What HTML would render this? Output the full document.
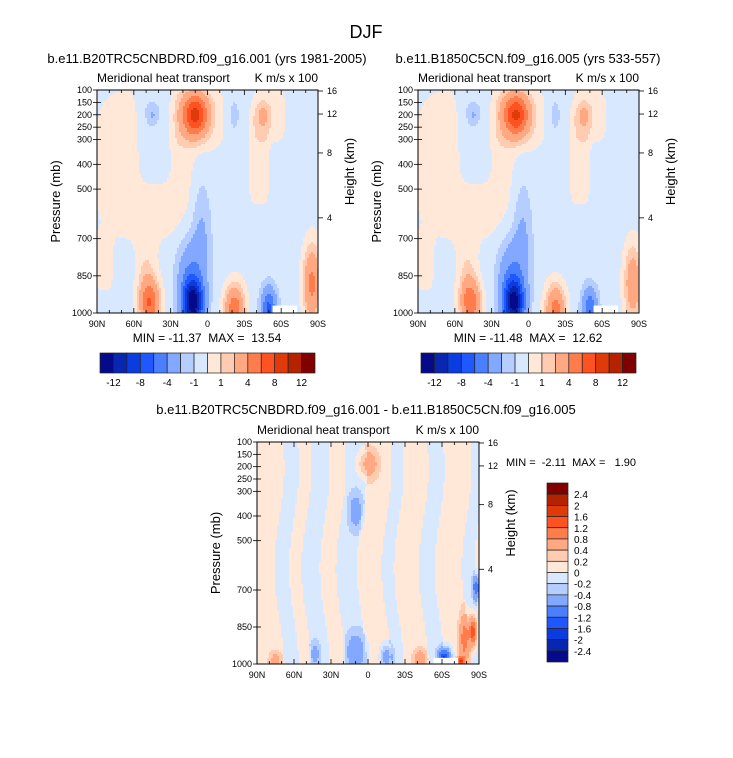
<!DOCTYPE html>
<html><head><meta charset="utf-8"><style>
html,body{margin:0;padding:0;background:#fff;}
svg{display:block;font-family:"Liberation Sans",Arial,sans-serif;}
svg text{white-space:pre;}
</style></head><body>
<svg id="fig" width="733" height="758" viewBox="0 0 733 758">
<text x="366" y="38" font-size="18" text-anchor="middle">DJF</text>
</svg>
<script>
// ---- data ----
const xTickLabels = ["90N","60N","30N","0","30S","60S","90S"];
const xTickLats = [90,60,30,0,-30,-60,-90];
const pTicks = [100,150,200,250,300,400,500,700,850,1000];
const heightTicks = ["16","12","8","4"];
const heightTickP = [104,197,354,616];
const levelsAbs = [-12,-10,-8,-6,-4,-2,-1,0,1,2,4,6,8,10,12];
const levelsAbsLabels = ["-12","-8","-4","-1","1","4","8","12"];
const levelsDiff = [-2.4,-2,-1.6,-1.2,-0.8,-0.4,-0.2,0,0.2,0.4,0.8,1.2,1.6,2,2.4];
const levelsDiffLabels = ["2.4","2","1.6","1.2","0.8","0.4","0.2","0","-0.2","-0.4","-0.8","-1.2","-1.6","-2","-2.4"];
const colors = ['#050a8a','#0826b0','#0a3ce0','#1f58ff','#4a80ff','#82a8ff','#b6ceff','#d8e8ff','#ffe8d8','#ffccb2','#ffa882','#ff7c4c','#ff5222','#e03a0a','#b42200','#800000'];
// blobs: [lat, pressure, sigmaLat, sigmaP, amplitude, power]  (power 4 = flat rectangular plateau)
const blobs1 = [
 [48,400,47,330,1,4],[43,260,15,240,-1,4],[8,210,22,130,1,4],[84,800,7,120,1,4],
 [-50,200,14,120,1,4],[-42,380,9,200,1,4],
 [10,200,10,80,8,2],[45,200,5,40,-1.5,2],[-22,200,3,50,-1.5,2],[-45,200,6,50,1.6,2],
 [12,960,8,90,-12,2],[5,700,8,250,-2,2],[15,850,10,150,-3,2],
 [47,960,8,90,6,2],[50,850,8,150,1.5,2],[-22,990,8,100,6,2],[-50,980,6,80,-6,2],[-85,880,7,150,5,2]
];
const blobs2 = [
 [48,400,47,330,1,4],[43,260,15,240,-1,4],[8,210,22,130,1,4],[84,800,7,120,1,4],
 [-50,200,14,120,1,4],[-42,380,9,200,1,4],
 [10,200,10,80,7.5,2],[45,200,5,40,-1.5,2],[-22,200,3,50,-1.5,2],[-45,200,6,50,1.6,2],
 [12,960,8,90,-11.5,2],[5,700,8,250,-2,2],[15,850,10,150,-3,2],
 [47,960,8,90,5.5,2],[50,850,8,150,1.5,2],[-22,990,8,100,5.5,2],[-50,980,6,80,-5,2],[-85,880,7,150,4,2]
];
const bandEdges3 = [90,72,60,50,35,22,5,-15,-25,-45,-58,-80,-90];
const bandVals3 = [0.1,-0.1,0.1,-0.1,0.1,-0.1,0.1,-0.1,0.1,-0.1,0.1,-0.1];
const blobs3 = [
 [0,190,8,60,0.6,2],[10,380,6,80,-0.5,2],[10,950,8,80,-0.6,2],[-15,970,5,50,-0.7,2],
 [-42,980,5,40,0.6,2],[-62,975,5,40,-1.6,2],[-78,900,4,100,0.9,2],[-85,870,3,60,1.5,2],
 [-88,690,3,50,-1.2,2],[43,960,4,50,-0.5,2],[-75,990,3,20,1.4,2],[75,990,5,40,0.5,2]
];
// missing-data patches [latFrom, latTo, pFrom, pTo]
const missing12 = [[-53,-73,970,1000]];
const missing3 = [[-53,-73,975,1000]];

const NS = "http://www.w3.org/2000/svg";
const svg = document.getElementById('fig');
function el(tag, attrs, parent, txt){
  const e = document.createElementNS(NS, tag);
  for (const k in attrs) e.setAttribute(k, attrs[k]);
  if (txt !== undefined) e.textContent = txt;
  (parent || svg).appendChild(e);
  return e;
}
function fieldVal(lat, p, blobs, base){
  let v = base;
  for (const b of blobs){
    const dx = (lat-b[0])/b[2], dy = (p-b[1])/b[3];
    let r;
    if (b[5]===4) r = dx*dx*dx*dx + dy*dy*dy*dy;
    else r = dx*dx+dy*dy;
    v += b[4]*Math.exp(-r);
  }
  return v;
}
function bandBase(lat, p){
  const l = lat + Math.sin(p/130)*4;
  for (let i=0;i<bandVals3.length;i++){ if (l<=bandEdges3[i] && l>=bandEdges3[i+1]) return bandVals3[i]; }
  return 0.1;
}
function colorIdx(v, levels){
  let i=0; while(i<levels.length && v>=levels[i]) i++; return i;
}
function panel(opt){
  const {x0,y0,w,h,blobs,levels,bandMode,missing,name} = opt;
  const g = el('g', {}, svg);
  
  
  const xS = lat => x0 + (90-lat)/180*w;
  const yS = p => y0 + (p-100)/900*h;
  const cell = 2;
  const field = el('g', {'shape-rendering':'crispEdges'}, g);
  
  
  for (let yy=0; yy<h; yy+=cell){
    const p = 100 + (yy+cell/2)/h*900;
    let runStart = 0, runC = -1;
    for (let xx=0; ; xx+=cell){
      const end = xx>=w;
      let c = -1;
      if (!end){
        const lat = 90 - (xx+cell/2)/w*180;
        const base = bandMode ? bandBase(lat, p) : -0.5;
        c = colorIdx(fieldVal(lat,p,blobs,base), levels);
      }
      if (c!==runC){
        if (runC>=0){
          const r = el('rect', {x:x0+runStart, y:y0+yy, width:Math.min(xx,w)-runStart, height:Math.min(cell,h-yy), fill:colors[runC]}, field);
          
          
        }
        runStart = xx; runC = c;
      }
      if (end) break;
    }
  }
  for (const m of missing){
    const r = el('rect', {x:xS(m[0]), y:yS(m[2]), width:xS(m[1])-xS(m[0]), height:yS(m[3])-yS(m[2]), fill:'#fff'}, g);
    
    
  }
  const frame = el('rect', {x:x0, y:y0, width:w, height:h, fill:'none', stroke:'#000', 'stroke-width':1}, g);
  
  
  for (let lat=90; lat>=-90; lat-=10){
    const major = lat%30===0;
    const len = major?5:3;
    el('line', {x1:xS(lat), x2:xS(lat), y1:y0+h, y2:y0+h-len, stroke:'#000','stroke-width':0.8}, g);
    el('line', {x1:xS(lat), x2:xS(lat), y1:y0, y2:y0+len, stroke:'#000','stroke-width':0.8}, g);
  }
  xTickLabels.forEach((t,i)=>{
    const tx = el('text', {x:xS(xTickLats[i]), y:y0+h+14, 'font-size':9, 'text-anchor':'middle'}, g, t);
    
    
  });
  pTicks.forEach(p=>{
    el('line', {x1:x0-4, x2:x0+4, y1:yS(p), y2:yS(p), stroke:'#000','stroke-width':0.8}, g);
    const tx = el('text', {x:x0-5, y:yS(p)+3, 'font-size':9, 'text-anchor':'end'}, g, String(p));
    
    
  });
  heightTicks.forEach((t,i)=>{
    const y = yS(heightTickP[i]);
    el('line', {x1:x0+w, x2:x0+w+5, y1:y, y2:y, stroke:'#000','stroke-width':0.8}, g);
    const tx = el('text', {x:x0+w+9, y:y+3, 'font-size':9}, g, t);
    
    
  });
  let t = el('text', {x:x0, y:y0-8, 'font-size':12}, g, 'Meridional heat transport');
  
  
  t = el('text', {x:x0+w, y:y0-8, 'font-size':12, 'text-anchor':'end'}, g, 'K m/s x 100');
  
  
  t = el('text', {x:0, y:0, 'font-size':13, 'text-anchor':'middle', transform:`translate(${x0-37},${y0+h/2}) rotate(-90)`}, g, 'Pressure (mb)');
  
  
  t = el('text', {x:0, y:0, 'font-size':13, 'text-anchor':'middle', transform:`translate(${x0+w+36},${y0+h/2-30}) rotate(-90)`}, g, 'Height (km)');
  
  
}
function hColorbar(x0,y0,w,h,name){
  const g = el('g', {}, svg);
  
  
  const bw = w/colors.length;
  colors.forEach((c,i)=>{
    const r = el('rect', {x:x0+i*bw, y:y0, width:bw, height:h, fill:c, stroke:'#222','stroke-width':0.7}, g);
    
    
  });
  levelsAbsLabels.forEach((l,i)=>{
    const t = el('text', {x:x0+(1+2*i)*bw, y:y0+h+13, 'font-size':10, 'text-anchor':'middle'}, g, l);
    
    
  });
}
function vColorbar(x0,y0,w,h,name){
  const g = el('g', {}, svg);
  
  
  const bh = h/colors.length;
  colors.slice().reverse().forEach((c,i)=>{
    const r = el('rect', {x:x0, y:y0+i*bh, width:w, height:bh, fill:c, stroke:'#222','stroke-width':0.7}, g);
    
    
  });
  levelsDiffLabels.forEach((l,i)=>{
    const t = el('text', {x:x0+w+6, y:y0+(i+1)*bh+4, 'font-size':10}, g, l);
    
    
  });
}
function txt(x,y,s,size,anchor,name){
  const t = el('text', {x:x, y:y, 'font-size':size, 'text-anchor':anchor}, svg, s);
  
  
}
panel({x0:97,y0:90,w:221,h:223,blobs:blobs1,levels:levelsAbs,bandMode:false,missing:missing12,name:'panel-20thc'});
panel({x0:418,y0:90,w:221,h:223,blobs:blobs2,levels:levelsAbs,bandMode:false,missing:missing12,name:'panel-1850'});
panel({x0:257,y0:442,w:222,h:222,blobs:blobs3,levels:levelsDiff,bandMode:true,missing:missing3,name:'panel-difference'});
hColorbar(100,353,215,20,'colorbar-20thc');
hColorbar(421,353,215,20,'colorbar-1850');
vColorbar(547,483,21,179,'colorbar-difference');
txt(207,63,'b.e11.B20TRC5CNBDRD.f09_g16.001 (yrs 1981-2005)',13,'middle','subtitle-20thc');
txt(528,63,'b.e11.B1850C5CN.f09_g16.005 (yrs 533-557)',13,'middle','subtitle-1850');
txt(366,414,'b.e11.B20TRC5CNBDRD.f09_g16.001 - b.e11.B1850C5CN.f09_g16.005',13,'middle','subtitle-difference');
txt(207,342,'MIN = -11.37  MAX =  13.54',12,'middle','minmax-20thc');
txt(528,342,'MIN = -11.48  MAX =  12.62',12,'middle','minmax-1850');
txt(506,466,'MIN =  -2.11  MAX =   1.90',11,'start','minmax-difference');
</script>
</body></html>
